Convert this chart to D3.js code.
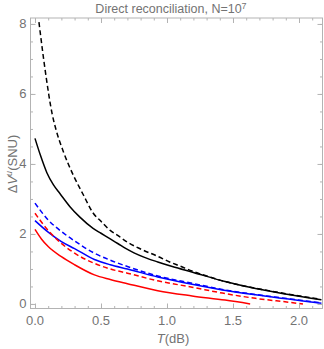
<!DOCTYPE html>
<html>
<head>
<meta charset="utf-8">
<script src="https://cdn.jsdelivr.net/npm/d3@7"></script>
<style>
  body { margin: 0; background: #fff; }
  text { font-family: "Liberation Sans", Arial, sans-serif; }
</style>
</head>
<body>
<div id="chart"></div>
<script>
// curve data: [T (dB), ΔV (SNU)]
const blackDashed = [[0.03, 8.05], [0.08, 6.6], [0.13, 5.43], [0.16, 4.97], [0.215, 4.35], [0.29, 3.68],
  [0.366, 3.12], [0.44, 2.6], [0.5, 2.36], [0.57, 2.1], [0.63, 1.95], [0.69, 1.79], [0.8, 1.57],
  [0.93, 1.36], [1.02, 1.2], [1.1, 1.08], [1.19, 0.94], [1.3, 0.8], [1.44, 0.64], [1.55, 0.54],
  [1.67, 0.45], [1.8, 0.36], [1.92, 0.28], [2.05, 0.2], [2.15, 0.14]];
const blackSolid = [[0.0, 4.73], [0.04, 4.26], [0.09, 3.75], [0.14, 3.4], [0.19, 3.15], [0.265, 2.78],
  [0.34, 2.48], [0.44, 2.16], [0.5, 2.02], [0.57, 1.86], [0.63, 1.72], [0.69, 1.58], [0.75, 1.46],
  [0.83, 1.33], [0.93, 1.2], [1.04, 1.07], [1.2, 0.9], [1.44, 0.64], [1.67, 0.44], [1.92, 0.27],
  [2.17, 0.12]];
const blueDashed = [[0.0, 2.88], [0.1, 2.4], [0.2, 2.07], [0.3, 1.8], [0.45, 1.45], [0.57, 1.25],
  [0.7, 1.07], [0.93, 0.8], [1.19, 0.59], [1.44, 0.4], [1.67, 0.27], [1.92, 0.15], [2.17, 0.03]];
const blueSolid = [[0.0, 2.38], [0.1, 2.05], [0.2, 1.78], [0.3, 1.58], [0.45, 1.27], [0.57, 1.12],
  [0.7, 1.0], [0.93, 0.77], [1.19, 0.56], [1.42, 0.4], [1.67, 0.26], [1.92, 0.14], [2.17, 0.02]];
const redDashed = [[0.0, 2.59], [0.1, 2.1], [0.2, 1.73], [0.3, 1.45], [0.45, 1.16], [0.57, 1.0],
  [0.7, 0.88], [0.93, 0.66], [1.19, 0.48], [1.42, 0.31], [1.67, 0.16], [1.92, 0.05], [2.03, 0.0]];
const redSolid = [[0.0, 2.13], [0.05, 1.85], [0.1, 1.64], [0.2, 1.35], [0.3, 1.12], [0.45, 0.83],
  [0.57, 0.7], [0.7, 0.58], [0.93, 0.38], [1.19, 0.23], [1.44, 0.11], [1.63, 0.0]];

const xTicks = [0, 0.5, 1, 1.5, 2];
const yTicks = [0, 2, 4, 6, 8];

const series = [
  { data: blackDashed, color: "#000", dash: "5,3" },
  { data: blackSolid, color: "#000", dash: null },
  { data: blueDashed, color: "#0000ff", dash: "5,3" },
  { data: blueSolid, color: "#0000ff", dash: null },
  { data: redDashed, color: "#ff0000", dash: "5,3" },
  { data: redSolid, color: "#ff0000", dash: null }
];

const width = 324, height = 349;
const frame = { left: 30.5, right: 322.5, top: 18, bottom: 308.5 };

const svg = d3.select("#chart").append("svg")
  .attr("width", width)
  .attr("height", height);

const x = d3.scaleLinear().domain([-0.034, 2.178]).range([frame.left, frame.right]);
const y = d3.scaleLinear().domain([-0.13, 8.17]).range([frame.bottom, frame.top]);

const frameColor = "#b3b3b3";
const labelColor = "#737373";

// clip to the frame
svg.append("clipPath").attr("id", "clip")
  .append("rect")
  .attr("x", frame.left).attr("y", frame.top)
  .attr("width", frame.right - frame.left).attr("height", frame.bottom - frame.top);

const line = d3.line()
  .x(d => x(d[0]))
  .y(d => y(d[1]))
  .curve(d3.curveMonotoneX);

const plot = svg.append("g").attr("clip-path", "url(#clip)");
series.forEach(s => {
  plot.append("path")
    .datum(s.data)
    .attr("d", line)
    .attr("fill", "none")
    .attr("stroke", s.color)
    .attr("stroke-width", 1.5)
    .attr("stroke-dasharray", s.dash);
});

// frame ticks, major + minor, on all four sides (inward)
const xMinor = d3.range(0, 2.21, 0.1);
const yMinor = d3.range(0, 8.01, 0.5);

function sideAxis(axis, scale, ticks, len, pos) {
  return svg.append("g")
    .attr("transform", pos)
    .call(axis(scale).tickValues(ticks).tickSize(len).tickFormat(""))
    .call(g => g.select(".domain").remove())
    .call(g => g.selectAll("line").attr("stroke", frameColor));
}

sideAxis(d3.axisBottom, x, xMinor, -2.5, `translate(0,${frame.bottom})`);
sideAxis(d3.axisBottom, x, xTicks, -5, `translate(0,${frame.bottom})`);
sideAxis(d3.axisTop, x, xMinor, -2.5, `translate(0,${frame.top})`);
sideAxis(d3.axisTop, x, xTicks, -5, `translate(0,${frame.top})`);
sideAxis(d3.axisLeft, y, yMinor, -2.5, `translate(${frame.left},0)`);
sideAxis(d3.axisLeft, y, yTicks, -5, `translate(${frame.left},0)`);
sideAxis(d3.axisRight, y, yMinor, -2.5, `translate(${frame.right},0)`);
sideAxis(d3.axisRight, y, yTicks, -5, `translate(${frame.right},0)`);

svg.append("rect")
  .attr("x", frame.left).attr("y", frame.top)
  .attr("width", frame.right - frame.left).attr("height", frame.bottom - frame.top)
  .attr("fill", "none")
  .attr("stroke", frameColor)
  .attr("stroke-width", 1);

// tick labels
svg.append("g").selectAll("text")
  .data(xTicks)
  .join("text")
  .attr("x", d => x(d))
  .attr("y", frame.bottom + 16)
  .attr("text-anchor", "middle")
  .attr("font-size", 13)
  .attr("fill", labelColor)
  .text(d => d3.format(".1f")(d));

svg.append("g").selectAll("text")
  .data(yTicks)
  .join("text")
  .attr("x", frame.left - 4)
  .attr("y", d => y(d) + 4.5)
  .attr("text-anchor", "end")
  .attr("font-size", 13)
  .attr("fill", labelColor)
  .text(d => d);

// title
const title = svg.append("text")
  .attr("x", 171)
  .attr("y", 13)
  .attr("text-anchor", "middle")
  .attr("font-size", 12.5)
  .attr("fill", labelColor);
title.append("tspan").text("Direct reconciliation, N=10");
title.append("tspan").attr("font-size", 9).attr("dy", -4).text("7");

// x label
const xl = svg.append("text")
  .attr("x", 173)
  .attr("y", 343)
  .attr("text-anchor", "middle")
  .attr("font-size", 13)
  .attr("fill", labelColor);
xl.append("tspan").attr("font-style", "italic").text("T");
xl.append("tspan").text("(dB)");

// y label
const yl = svg.append("text")
  .attr("transform", "translate(17,164) rotate(-90)")
  .attr("text-anchor", "middle")
  .attr("font-size", 13)
  .attr("fill", labelColor);
yl.append("tspan").text("Δ");
yl.append("tspan").attr("font-style", "italic").text("V");
yl.append("tspan").attr("font-style", "italic").attr("font-size", 9).attr("dy", -5).text("u");
yl.append("tspan").attr("dy", 5).text("(SNU)");
</script>
</body>
</html>
